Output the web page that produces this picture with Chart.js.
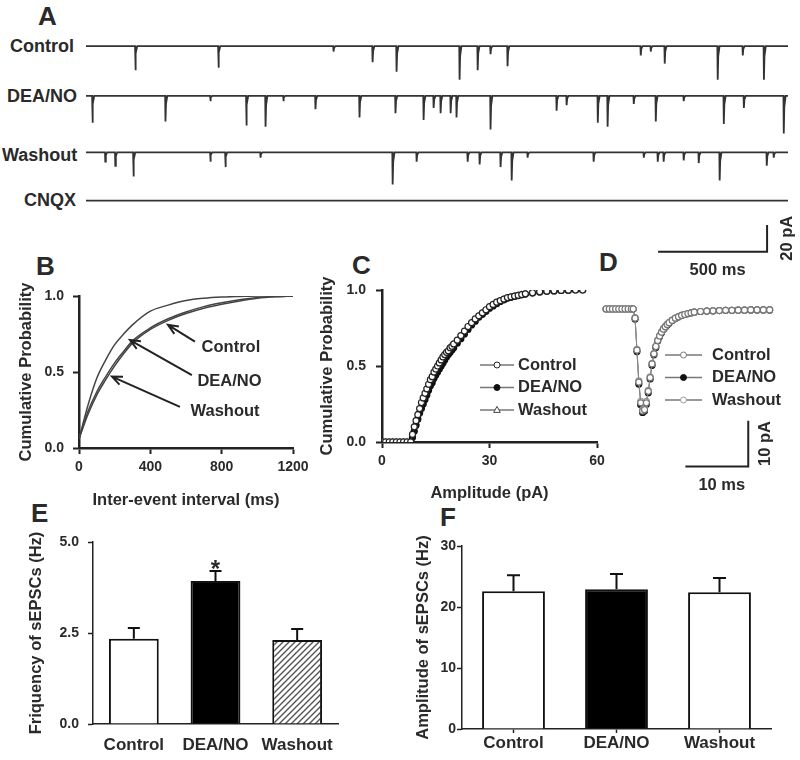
<!DOCTYPE html>
<html>
<head>
<meta charset="utf-8">
<title>DEA/NO and sEPSCs</title>
<script src="https://cdn.jsdelivr.net/npm/chart.js@4.4.1/dist/chart.umd.min.js"></script>
<style>
  body { margin: 0; background: #fff; }
  #fig { position: relative; width: 800px; height: 760px; overflow: hidden;
         font-family: "Liberation Sans", Arial, sans-serif; font-weight: bold; color: #2a2a2a; }
  #fig canvas { position: absolute; }
  .txt { position: absolute; white-space: nowrap; line-height: 1; }
  .panel { font-size: 26px; }
  .row { font-size: 18px; }
</style>
</head>
<body>
<div id="fig">
  <div class="txt panel" style="left:38px;top:3px">A</div>
  <div class="txt panel" style="left:36px;top:253px">B</div>
  <div class="txt panel" style="left:352px;top:252px">C</div>
  <div class="txt panel" style="left:599px;top:249px">D</div>
  <div class="txt panel" style="left:31px;top:500px">E</div>
  <div class="txt panel" style="left:440px;top:504px">F</div>

  <div class="txt row" style="left:10px;top:37px">Control</div>
  <div class="txt row" style="left:7px;top:87px">DEA/NO</div>
  <div class="txt row" style="left:2px;top:146px">Washout</div>
  <div class="txt row" style="left:24px;top:191px">CNQX</div>

  <canvas id="chartA" width="714" height="250" style="left:86px;top:30px"></canvas>
  <canvas id="chartB" width="330" height="280" style="left:0px;top:240px"></canvas>
  <canvas id="chartC" width="310" height="280" style="left:300px;top:240px"></canvas>
  <canvas id="chartD" width="220" height="220" style="left:580px;top:280px"></canvas>
  <canvas id="chartE" width="360" height="255" style="left:0px;top:505px"></canvas>
  <canvas id="chartF" width="420" height="255" style="left:380px;top:505px"></canvas>
</div>

<script>
// ---------- data ----------
const traceNames = ["Control", "DEA/NO", "Washout", "CNQX"];
const traceLength = 3220; // ms shown per sweep

// A: onset (ms) and peak (pA) of each sEPSC in the sweeps
const controlEventTimes = [225, 606, 1134, 1313, 1423, 1712, 1795, 1854, 1932, 2543, 2589, 2653, 2896, 3011, 3108];
const controlEventAmps  = [18, 16, 4, 12, 19, 25, 18, 6, 15, 7, 4, 13, 25, 7, 25];
const deaEventTimes = [28, 363, 569, 734, 822, 904, 1051, 1253, 1418, 1547, 1593, 1625, 1671, 1698, 1854,
                       2157, 2203, 2346, 2391, 2511, 2612, 2740, 2924, 3016, 3199];
const deaEventAmps  = [20, 19, 4, 22, 23, 4, 10, 16, 13, 18, 9, 13, 13, 16, 25,
                       11, 7, 20, 23, 6, 19, 4, 21, 9, 28];
const washEventTimes = [87, 133, 216, 569, 638, 799, 1405, 1515, 1749, 1804, 1900, 1951, 2024,
                        2327, 2557, 2621, 2648, 2740, 2809, 2905, 3121, 3153];
const washEventAmps  = [7, 10, 18, 7, 11, 4, 24, 7, 7, 9, 11, 21, 4,
                        7, 4, 7, 7, 6, 8, 21, 10, 4];
const cnqxEventTimes = [];
const cnqxEventAmps  = [];

// B: cumulative probability of inter-event interval
const intervalMs     = [0, 50, 100, 150, 200, 250, 300, 400, 500, 600, 700, 800, 900, 1000, 1100, 1200];
const intervalCtl    = [0.06, 0.22, 0.35, 0.45, 0.54, 0.62, 0.69, 0.78, 0.84, 0.885, 0.92, 0.945, 0.967, 0.985, 0.995, 1.0];
const intervalDea    = [0.06, 0.28, 0.46, 0.58, 0.68, 0.75, 0.81, 0.90, 0.94, 0.97, 0.985, 0.993, 0.997, 1.0, 1.0, 1.0];
const intervalWash   = [0.06, 0.24, 0.37, 0.47, 0.56, 0.635, 0.705, 0.79, 0.85, 0.895, 0.93, 0.955, 0.975, 0.99, 0.997, 1.0];

// C: cumulative probability of amplitude
const ampPA = [0, 1, 2, 3, 4, 5, 6, 7, 8, 8.5, 9, 9.5, 10, 10.5, 11, 11.5, 12, 12.5, 13, 13.5, 14, 14.5, 15,
               15.5, 16, 16.5, 17, 17.5, 18, 18.5, 19, 19.5, 20, 21, 22, 23, 24, 25, 26, 27, 28, 29, 30,
               31, 32, 33, 34, 35, 36, 37, 38, 39, 40, 42, 44, 46, 48, 50, 52, 54, 56];
const ampCtl = [0, 0, 0, 0, 0, 0, 0, 0, 0, 0.05, 0.10, 0.14, 0.18, 0.22, 0.26, 0.29, 0.32, 0.35, 0.38, 0.41, 0.43, 0.46, 0.48,
                0.50, 0.52, 0.54, 0.56, 0.575, 0.59, 0.60, 0.62, 0.63, 0.645, 0.67, 0.70, 0.73, 0.76, 0.785, 0.81, 0.83, 0.85, 0.87, 0.89,
                0.905, 0.92, 0.93, 0.94, 0.95, 0.955, 0.96, 0.965, 0.97, 0.975, 0.982, 0.988, 0.992, 0.995, 0.997, 0.999, 1, 1];
const ampDea = [0, 0, 0, 0, 0, 0, 0, 0, 0, 0.03, 0.07, 0.11, 0.15, 0.19, 0.22, 0.25, 0.28, 0.31, 0.34, 0.37, 0.39, 0.42, 0.44,
                0.46, 0.48, 0.50, 0.52, 0.54, 0.56, 0.575, 0.59, 0.605, 0.62, 0.65, 0.68, 0.71, 0.74, 0.77, 0.795, 0.82, 0.84, 0.86, 0.88,
                0.895, 0.91, 0.925, 0.935, 0.945, 0.952, 0.958, 0.963, 0.968, 0.973, 0.98, 0.987, 0.991, 0.994, 0.997, 0.999, 1, 1];
const ampWash = [0, 0, 0, 0, 0, 0, 0, 0, 0, 0.04, 0.085, 0.125, 0.165, 0.205, 0.24, 0.27, 0.30, 0.33, 0.36, 0.39, 0.41, 0.44, 0.46,
                 0.48, 0.50, 0.52, 0.54, 0.56, 0.575, 0.59, 0.605, 0.62, 0.63, 0.66, 0.69, 0.72, 0.75, 0.78, 0.80, 0.825, 0.845, 0.865, 0.885,
                 0.90, 0.915, 0.928, 0.938, 0.948, 0.954, 0.96, 0.965, 0.97, 0.974, 0.981, 0.987, 0.991, 0.994, 0.997, 0.999, 1, 1];

// D: averaged sEPSC (ms, pA)
const avgMs   = [0, 0.5, 1, 1.5, 2, 2.5, 3, 3.5, 4, 4.3, 4.6, 4.9, 5.2, 5.5, 5.8, 6.1, 6.4, 6.7, 7.0, 7.3, 7.6, 7.9,
                 8.2, 8.5, 8.8, 9.1, 9.4, 9.7, 10, 10.5, 11, 11.5, 12, 12.5, 13, 13.5, 14, 15, 16, 17, 18, 19,
                 20, 21, 22, 23, 24, 25, 26];
const avgCtl  = [0, 0, 0, 0, 0, 0, 0, 0, 0, 0, -2, -9, -16, -20.5, -22.3, -22, -20.5, -18, -15, -12, -9.8, -8.2,
                 -6.9, -5.9, -5.1, -4.4, -3.9, -3.4, -3.0, -2.5, -2.0, -1.7, -1.4, -1.2, -1.0, -0.85, -0.7, -0.55, -0.45, -0.4, -0.35, -0.3,
                 -0.3, -0.25, -0.25, -0.2, -0.2, -0.2, -0.2];
const avgDea  = [0, 0, 0, 0, 0, 0, 0, 0, 0, 0, -2.2, -9.3, -16.4, -20.9, -22.6, -22.3, -20.8, -18.3, -15.3, -12.3, -10.0, -8.4,
                 -7.0, -6.0, -5.2, -4.5, -4.0, -3.5, -3.1, -2.5, -2.1, -1.7, -1.4, -1.2, -1.0, -0.85, -0.7, -0.55, -0.45, -0.4, -0.35, -0.3,
                 -0.3, -0.25, -0.25, -0.2, -0.2, -0.2, -0.2];
const avgWash = [0, 0, 0, 0, 0, 0, 0, 0, 0, 0, -1.9, -8.8, -15.7, -20.2, -22.0, -21.7, -20.2, -17.8, -14.8, -11.9, -9.7, -8.1,
                 -6.8, -5.8, -5.0, -4.3, -3.8, -3.3, -2.9, -2.4, -2.0, -1.7, -1.4, -1.2, -1.0, -0.85, -0.7, -0.55, -0.45, -0.4, -0.35, -0.3,
                 -0.3, -0.25, -0.25, -0.2, -0.2, -0.2, -0.2];

// E / F: group means and SEM
const groups    = ["Control", "DEA/NO", "Washout"];
const freqMean  = [2.34, 3.93, 2.31];
const freqSem   = [0.30, 0.27, 0.30];
const freqMarks = ["", "*", ""];
const ampMean   = [22.6, 22.9, 22.4];
const ampSem    = [2.6, 2.5, 2.35];

// ---------- styling ----------
const INK = "#2a2a2a";
const FONT = "'Liberation Sans', Arial, sans-serif";
Chart.defaults.font.family = FONT;
Chart.defaults.font.weight = "bold";
Chart.defaults.font.size = 14;
Chart.defaults.color = INK;
Chart.defaults.animation = false;
Chart.defaults.responsive = false;
Chart.defaults.plugins.legend.display = false;
Chart.defaults.plugins.tooltip.enabled = false;

const toXY = (xs, ys) => xs.map((x, i) => ({ x: x, y: ys[i] }));

function axis(opts) {
  const ticks = { padding: opts.pad, font: { size: opts.fontSize || 14 } };
  if (opts.step) ticks.stepSize = opts.step;
  if (opts.fmt) ticks.callback = opts.fmt;
  return {
    type: opts.type || "linear",
    min: opts.min, max: opts.max,
    ticks: ticks,
    grid: { display: true, drawOnChartArea: false, drawTicks: opts.tick > 0, tickLength: opts.tick,
            tickWidth: opts.tickWidth || 2, tickColor: "#222", offset: false },
    border: { display: true, color: "#222", width: opts.line || 2.5 },
    title: { display: !!opts.title, text: opts.title, font: { size: 16.5 }, padding: opts.titlePad },
    afterFit: s => { if (opts.width) s.width = opts.width; if (opts.height) s.height = opts.height; }
  };
}

const plain = v => String(v);
const oneDecimal = v => v.toFixed(1);

function scaleBar(bar) {
  return {
    id: "scaleBar",
    afterDraw(chart) {
      const { ctx, scales: { x, y } } = chart;
      const xr = x.getPixelForValue(bar.t), xl = x.getPixelForValue(bar.t - bar.ms);
      const yb = y.getPixelForValue(bar.v), yt = y.getPixelForValue(bar.v + bar.pA);
      ctx.save();
      ctx.strokeStyle = "#222"; ctx.lineWidth = 2;
      ctx.beginPath(); ctx.moveTo(xl, yb); ctx.lineTo(xr, yb); ctx.lineTo(xr, yt); ctx.stroke();
      ctx.fillStyle = INK; ctx.font = "bold 16.5px " + FONT;
      ctx.textAlign = "center"; ctx.textBaseline = "middle";
      ctx.fillText(bar.ms + " ms", (xl + xr) / 2 + 5, yb + bar.below);
      ctx.translate(xr + bar.side, (yb + yt) / 2); ctx.rotate(-Math.PI / 2);
      ctx.fillText(bar.pA + " pA", 0, 0);
      ctx.restore();
    }
  };
}

function drawMarker(ctx, style, x, y, r, fill, stroke) {
  ctx.beginPath();
  if (style === "triangle") {
    ctx.moveTo(x, y - r * 1.2); ctx.lineTo(x + r * 1.1, y + r * 0.8); ctx.lineTo(x - r * 1.1, y + r * 0.8); ctx.closePath();
  } else {
    ctx.arc(x, y, r, 0, Math.PI * 2);
  }
  ctx.fillStyle = fill; ctx.fill(); ctx.strokeStyle = stroke; ctx.lineWidth = 1; ctx.stroke();
}

function inlineLegend(box) {
  return {
    id: "inlineLegend",
    afterDraw(chart) {
      const ctx = chart.ctx;
      ctx.save();
      chart.data.datasets.forEach((ds, i) => {
        const y = box.y + i * box.dy;
        ctx.strokeStyle = "#777"; ctx.lineWidth = 1.5;
        ctx.beginPath(); ctx.moveTo(box.x0, y); ctx.lineTo(box.x1, y); ctx.stroke();
        drawMarker(ctx, ds.pointStyle, (box.x0 + box.x1) / 2, y, 3, ds.pointBackgroundColor, ds.pointBorderColor);
        ctx.fillStyle = INK; ctx.font = "bold 16.5px " + FONT;
        ctx.textAlign = "left"; ctx.textBaseline = "middle";
        ctx.fillText(ds.label, box.tx, y);
      });
      ctx.restore();
    }
  };
}

// ---------- A: raw sweeps ----------
const sweepTimes = [controlEventTimes, deaEventTimes, washEventTimes, cnqxEventTimes];
const sweepAmps = [controlEventAmps, deaEventAmps, washEventAmps, cnqxEventAmps];
const rowShift = [0, -37, -79, -115]; // vertical spacing of sweeps, in pA

function buildSweep(times, amps, shift) {
  const pts = [{ x: 0, y: shift }];
  times.forEach((t, i) => {
    pts.push({ x: t, y: shift }, { x: t + 1.5, y: shift - amps[i] },
             { x: t + 4, y: shift - amps[i] * 0.3 }, { x: t + 10, y: shift });
  });
  pts.push({ x: traceLength, y: shift });
  return pts;
}

new Chart(document.getElementById("chartA"), {
  type: "line",
  data: {
    datasets: traceNames.map((name, i) => ({
      label: name,
      data: buildSweep(sweepTimes[i], sweepAmps[i], rowShift[i]),
      borderColor: "#333", borderWidth: 1.8, pointRadius: 0, tension: 0
    }))
  },
  options: {
    layout: { padding: 0 },
    scales: {
      x: { type: "linear", min: 0, max: 3275, display: false },
      y: { min: -174, max: 12, display: false }
    }
  },
  plugins: [scaleBar({ t: 3124, v: -153, ms: 500, pA: 20, below: 19, side: 20 })]
});

// ---------- B: inter-event interval ----------
const bNotes = [
  { text: "Control", tx: 852, ty: 0.664, from: [650, 0.70], to: [499, 0.81] },
  { text: "DEA/NO",  tx: 844, ty: 0.44,  from: [633, 0.48], to: [286, 0.71] },
  { text: "Washout", tx: 819, ty: 0.243, from: [566, 0.27], to: [185, 0.47] }
];

const arrowNotes = {
  id: "arrowNotes",
  afterDatasetsDraw(chart) {
    const { ctx, scales: { x, y } } = chart;
    ctx.save();
    ctx.strokeStyle = "#222"; ctx.lineWidth = 2; ctx.fillStyle = INK;
    ctx.font = "bold 16.5px " + FONT; ctx.textAlign = "center"; ctx.textBaseline = "middle";
    bNotes.forEach(n => {
      const x0 = x.getPixelForValue(n.from[0]), y0 = y.getPixelForValue(n.from[1]);
      const x1 = x.getPixelForValue(n.to[0]), y1 = y.getPixelForValue(n.to[1]);
      const a = Math.atan2(y1 - y0, x1 - x0), L = 11, s = 0.4;
      ctx.beginPath();
      ctx.moveTo(x0, y0); ctx.lineTo(x1, y1);
      ctx.moveTo(x1 - L * Math.cos(a - s), y1 - L * Math.sin(a - s));
      ctx.lineTo(x1, y1);
      ctx.lineTo(x1 - L * Math.cos(a + s), y1 - L * Math.sin(a + s));
      ctx.stroke();
      ctx.fillText(n.text, x.getPixelForValue(n.tx), y.getPixelForValue(n.ty));
    });
    ctx.restore();
  }
};

new Chart(document.getElementById("chartB"), {
  type: "line",
  data: {
    datasets: [
      { label: "Control", data: toXY(intervalMs, intervalCtl) },
      { label: "DEA/NO", data: toXY(intervalMs, intervalDea) },
      { label: "Washout", data: toXY(intervalMs, intervalWash) }
    ].map(d => Object.assign(d, { borderColor: "#444", borderWidth: 1.5, pointRadius: 0,
                                 cubicInterpolationMode: "monotone" }))
  },
  options: {
    layout: { padding: { top: 56, right: 37, left: 0, bottom: 0 } },
    scales: {
      x: axis({ min: 0, max: 1200, step: 400, pad: 5, tick: 6, height: 72, fmt: plain,
                title: "Inter-event interval (ms)", titlePad: { top: 0, bottom: 10 } }),
      y: axis({ min: 0, max: 1, step: 0.5, pad: 9, tick: 6, width: 79, fmt: oneDecimal,
                title: "Cumulative Probability", titlePad: { top: 17, bottom: 0 } })
    }
  },
  plugins: [arrowNotes]
});

// ---------- C: amplitude ----------
new Chart(document.getElementById("chartC"), {
  type: "line",
  data: {
    datasets: [
      { label: "Control", data: toXY(ampPA, ampCtl), pointStyle: "circle",
        pointBackgroundColor: "#fff", pointBorderColor: "#222" },
      { label: "DEA/NO", data: toXY(ampPA, ampDea), pointStyle: "circle",
        pointBackgroundColor: "#111", pointBorderColor: "#111" },
      { label: "Washout", data: toXY(ampPA, ampWash), pointStyle: "triangle",
        pointBackgroundColor: "#fff", pointBorderColor: "#444" }
    ].map(d => Object.assign(d, { borderColor: "#333", borderWidth: 1.2, pointRadius: 3,
                                 pointBorderWidth: 1.2, tension: 0 }))
  },
  options: {
    layout: { padding: { top: 50, right: 13, left: 0, bottom: 0 } },
    scales: {
      x: axis({ min: 0, max: 60, step: 30, pad: 5, tick: 6, height: 78, fmt: plain,
                title: "Amplitude (pA)", titlePad: { top: 0, bottom: 17 } }),
      y: axis({ min: 0, max: 1, step: 0.5, pad: 10, tick: 6, width: 82, fmt: oneDecimal,
                title: "Cumulative Probability", titlePad: { top: 18, bottom: 0 } })
    }
  },
  plugins: [inlineLegend({ x0: 180, x1: 214, tx: 218, y: 125, dy: 22.5 })]
});

// ---------- D: averaged event ----------
new Chart(document.getElementById("chartD"), {
  type: "line",
  data: {
    datasets: [
      { label: "Control", data: toXY(avgMs, avgCtl), pointBackgroundColor: "#fff",
        pointBorderColor: "#777", order: 0 },
      { label: "DEA/NO", data: toXY(avgMs, avgDea), pointBackgroundColor: "#111",
        pointBorderColor: "#111", order: 2 },
      { label: "Washout", data: toXY(avgMs, avgWash), pointBackgroundColor: "#fff",
        pointBorderColor: "#999", order: 1 }
    ].map(d => Object.assign(d, { pointStyle: "circle", borderColor: "#888", borderWidth: 1,
                                 pointRadius: 3, pointBorderWidth: 1.2, tension: 0 }))
  },
  options: {
    layout: { padding: 0 },
    scales: {
      x: { type: "linear", min: -3.33, max: 30.0, display: false },
      y: { min: -40.6, max: 5.2, display: false }
    }
  },
  plugins: [
    inlineLegend({ x0: 85, x1: 122, tx: 132, y: 75, dy: 22.5 }),
    scaleBar({ t: 22.6, v: -34.4, ms: 10, pA: 10, below: 19, side: 17 })
  ]
});

// ---------- E / F: bars ----------
function hatch() {
  const c = document.createElement("canvas");
  c.width = 6; c.height = 6;
  const g = c.getContext("2d");
  g.fillStyle = "#fff"; g.fillRect(0, 0, 6, 6);
  g.strokeStyle = "#555"; g.lineWidth = 1.4;
  g.beginPath();
  g.moveTo(0, 6); g.lineTo(6, 0);
  g.moveTo(-3, 3); g.lineTo(3, -3);
  g.moveTo(3, 9); g.lineTo(9, 3);
  g.stroke();
  return g.createPattern(c, "repeat");
}

function errorBars(means, errs, marks, cap) {
  return {
    id: "errorBars",
    afterDatasetsDraw(chart) {
      const ctx = chart.ctx, y = chart.scales.y;
      const bars = chart.getDatasetMeta(0).data;
      ctx.save();
      ctx.strokeStyle = "#111"; ctx.lineWidth = 2;
      ctx.fillStyle = INK; ctx.textAlign = "center"; ctx.textBaseline = "alphabetic";
      ctx.font = "bold 24px " + FONT;
      bars.forEach((bar, i) => {
        const top = y.getPixelForValue(means[i] + errs[i]);
        ctx.beginPath();
        ctx.moveTo(bar.x, y.getPixelForValue(means[i])); ctx.lineTo(bar.x, top);
        ctx.moveTo(bar.x - cap / 2, top); ctx.lineTo(bar.x + cap / 2, top);
        ctx.stroke();
        if (marks && marks[i]) ctx.fillText(marks[i], bar.x, top + 6);
      });
      ctx.restore();
    }
  };
}

const barLook = { borderColor: "#111", borderWidth: 2, barPercentage: 0.61, categoryPercentage: 1 };

new Chart(document.getElementById("chartE"), {
  type: "bar",
  data: {
    labels: groups,
    datasets: [Object.assign({ label: "Frequency", data: freqMean,
                               backgroundColor: ["#fff", "#000", hatch()] }, barLook)]
  },
  options: {
    layout: { padding: { top: 37, right: 22, left: 0, bottom: 0 } },
    scales: {
      x: axis({ type: "category", pad: 11, tick: 0, height: 36, line: 1.5, fontSize: 17 }),
      y: axis({ min: 0, max: 5, step: 2.5, pad: 9, tick: 5, tickWidth: 1.5, width: 93, line: 1.5,
                fmt: oneDecimal,
                title: "Friquency of sEPSCs (Hz)", titlePad: { top: 27, bottom: 0 } })
    }
  },
  plugins: [errorBars(freqMean, freqSem, freqMarks, 12)]
});

new Chart(document.getElementById("chartF"), {
  type: "bar",
  data: {
    labels: groups,
    datasets: [Object.assign({ label: "Amplitude", data: ampMean,
                               backgroundColor: ["#fff", "#000", "#fff"] }, barLook)]
  },
  options: {
    layout: { padding: { top: 41, right: 29, left: 0, bottom: 0 } },
    scales: {
      x: axis({ type: "category", pad: 0, tick: 4, tickWidth: 1.5, height: 31, line: 1.5, fontSize: 17 }),
      y: axis({ min: 0, max: 30, step: 10, pad: 1, tick: 5, tickWidth: 1.5, width: 82, line: 1.5,
                fmt: plain,
                title: "Amplitude of sEPSCs (Hz)", titlePad: { top: 34, bottom: 0 } })
    }
  },
  plugins: [errorBars(ampMean, ampSem, null, 13)]
});
</script>
</body>
</html>
